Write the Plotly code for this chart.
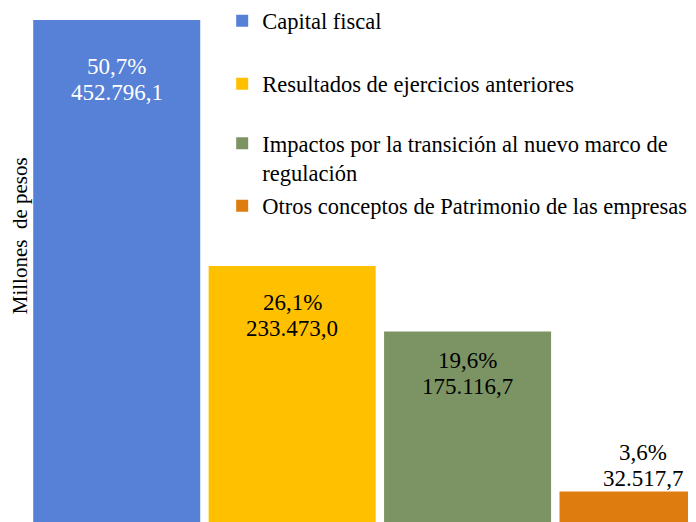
import plotly.graph_objects as go

categories = [
    "Capital fiscal",
    "Resultados de ejercicios anteriores",
    "Impactos por la transición al nuevo marco de<br>regulación",
    "Otros conceptos de Patrimonio de las empresas",
]
values = [452796.1, 233473.0, 175116.7, 32517.7]
percent_labels = ["50,7%", "26,1%", "19,6%", "3,6%"]
value_labels = ["452.796,1", "233.473,0", "175.116,7", "32.517,7"]

colors = ["#5781D6", "#FFC000", "#7C9464", "#DE7C10"]
label_colors = ["white", "black", "black", "black"]
label_shift = [-32, -22, -15, -2]
label_inside = [True, True, True, False]
legend_y_page = [21, 84, 158, 206]

FONT = "Liberation Serif, Times New Roman, serif"
PAGE_OFF = 8           # default body margin of the html page
W, H = 696 - PAGE_OFF, 522 - PAGE_OFF
ML = 28.75 - PAGE_OFF
PW = W - ML
LINE = 26

fig = go.Figure()
for i, (name, v) in enumerate(zip(categories, values)):
    lg = "legend" if i == 0 else f"legend{i+1}"
    fig.add_trace(go.Bar(
        x=[i], y=[v], name=name, marker_color=colors[i],
        width=0.952, legend=lg, showlegend=True,
        marker_line_width=0,
    ))
    f = dict(family=FONT, size=23, color=label_colors[i])
    if label_inside[i]:
        shifts = [label_shift[i], label_shift[i] - LINE]
        anchor = "top"
    else:
        shifts = [label_shift[i] + LINE, label_shift[i]]
        anchor = "bottom"
    for txt, sh in zip([percent_labels[i], value_labels[i]], shifts):
        fig.add_annotation(
            x=i, y=v, xref="x", yref="y", text=txt,
            showarrow=False, yanchor=anchor, yshift=sh, font=f,
        )

leg_x = (222 - PAGE_OFF - ML) / PW
legend_common = dict(
    x=leg_x, xanchor="left", yanchor="middle", valign="top",
    font=dict(family=FONT, size=22.5, color="black"),
    bgcolor="rgba(0,0,0,0)", borderwidth=0,
)
layout_legends = {}
for i in range(4):
    key = "legend" if i == 0 else f"legend{i+1}"
    layout_legends[key] = dict(legend_common, y=1 - (legend_y_page[i] - PAGE_OFF) / H)

fig.add_annotation(
    text="Millones  de pesos", textangle=-90,
    xref="paper", yref="paper",
    x=(20 - PAGE_OFF - ML) / PW, y=1 - (236 - PAGE_OFF) / H,
    showarrow=False, xanchor="center", yanchor="middle", borderpad=0,
    font=dict(family=FONT, size=21, color="black"),
)

fig.update_layout(
    width=W, height=H,
    margin=dict(l=ML, r=0, t=0, b=0, autoexpand=False),
    paper_bgcolor="white", plot_bgcolor="white",
    barmode="overlay",
    xaxis=dict(range=[-0.5, 3.302], visible=False, fixedrange=True),
    yaxis=dict(range=[5213, 463495], visible=False, fixedrange=True),
    **layout_legends,
)

fig.write_html("out.html")
